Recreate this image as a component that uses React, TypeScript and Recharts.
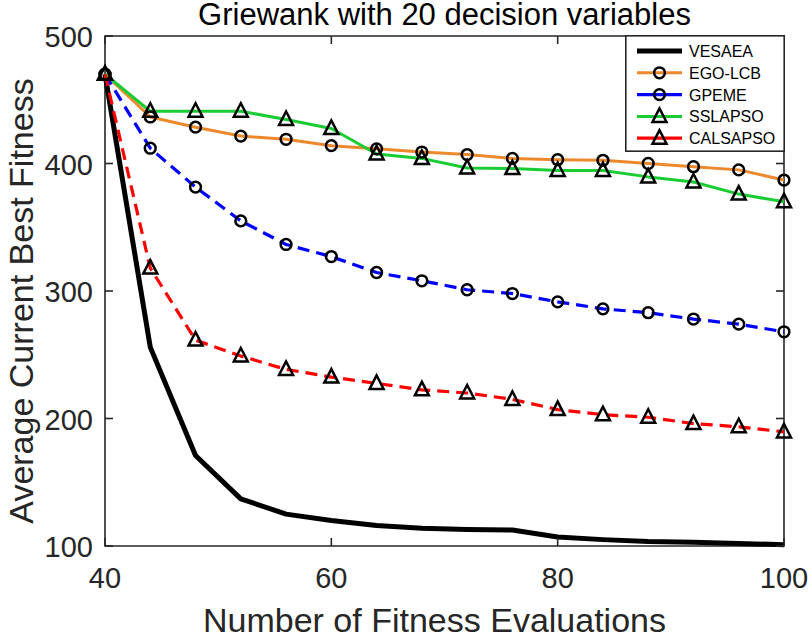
import React from "react";
import { LineChart, Line, XAxis, YAxis, ReferenceArea, Legend } from "recharts";

// Averaged best fitness, Griewank (20 variables)
const evaluations = [40, 44, 48, 52, 56, 60, 64, 68, 72, 76, 80, 84, 88, 92, 96, 100];
const vesaea = [470, 256, 171, 137, 125, 120, 116, 114, 113, 112.5, 107, 105, 103.5, 103, 102, 101];
const egoLcb = [470, 436.5, 428.5, 421.5, 419, 414, 411.5, 409, 407, 404, 403, 402.5, 400, 397.5, 395, 387];
const gpeme = [470, 412, 381.5, 355, 336.5, 327, 314.5, 308, 301, 298, 291.5, 286, 283, 278, 274, 268];
const sslapso = [470, 441, 441, 441, 434.5, 427.5, 407.5, 404, 396.5, 396, 394.5, 394.5, 389.5, 385.5, 376, 370];
const calsapso = [470, 318, 261.5, 249, 238.5, 232.5, 227.5, 222.5, 220, 215, 207, 203, 201, 196, 193.5, 189.5];

const xTicks = [40, 60, 80, 100];
const yTicks = [100, 200, 300, 400, 500];

const data = evaluations.map((x, i) => ({
  x,
  VESAEA: vesaea[i],
  "EGO-LCB": egoLcb[i],
  GPEME: gpeme[i],
  SSLAPSO: sslapso[i],
  CALSAPSO: calsapso[i],
}));

type Marker = "none" | "circle" | "triangle";

const series: { name: string; color: string; width: number; dash?: string; marker: Marker }[] = [
  { name: "VESAEA", color: "#000000", width: 5, marker: "none" },
  { name: "EGO-LCB", color: "#ED892D", width: 3, marker: "circle" },
  { name: "GPEME", color: "#0000FF", width: 3.2, dash: "12 7", marker: "circle" },
  { name: "SSLAPSO", color: "#1ACC33", width: 3, marker: "triangle" },
  { name: "CALSAPSO", color: "#FF0000", width: 3.2, dash: "12 7", marker: "triangle" },
];

const W = 811;
const H = 636;
const MARGIN = { top: 36, right: 27, bottom: 0, left: 0 };
const Y_AXIS_W = 105;
const X_AXIS_H = 90;
const PLOT_TOP = MARGIN.top;
const PLOT_RIGHT = W - MARGIN.right;
const TICK_LEN = 8;
const AXIS = "#262626";
const FONT = '"Liberation Sans", Arial, Helvetica, sans-serif';
const LABEL_SIZE = 34;

const drawMarker = (kind: Marker, cx: number, cy: number, key?: React.Key) => {
  if (kind === "circle") {
    return <circle key={key} cx={cx} cy={cy} r={5.4} fill="none" stroke="#000" strokeWidth={2.5} />;
  }
  if (kind === "triangle") {
    const pts = `${cx},${cy - 8} ${cx - 7},${cy + 5.5} ${cx + 7},${cy + 5.5}`;
    return <polygon key={key} points={pts} fill="none" stroke="#000" strokeWidth={2.5} strokeLinejoin="miter" />;
  }
  return <g key={key} />;
};

const XTick = (props: any) => {
  const { x, y, payload } = props;
  return (
    <g>
      <line x1={x} y1={y} x2={x} y2={y - TICK_LEN} stroke={AXIS} strokeWidth={1.6} />
      <line x1={x} y1={PLOT_TOP} x2={x} y2={PLOT_TOP + TICK_LEN} stroke={AXIS} strokeWidth={1.6} />
      <text x={x} y={y + 42} textAnchor="middle" fontSize={29} fontFamily={FONT} fill={AXIS}>
        {payload.value}
      </text>
    </g>
  );
};

const YTick = (props: any) => {
  const { x, y, payload } = props;
  return (
    <g>
      <line x1={x} y1={y} x2={x + TICK_LEN} y2={y} stroke={AXIS} strokeWidth={1.6} />
      <line x1={PLOT_RIGHT} y1={y} x2={PLOT_RIGHT - TICK_LEN} y2={y} stroke={AXIS} strokeWidth={1.6} />
      <text x={x - 12} y={y + 11} textAnchor="end" fontSize={29} fontFamily={FONT} fill={AXIS}>
        {payload.value}
      </text>
    </g>
  );
};

// axis titles sit a little toward the origin from the plot centre
const XLabel = (props: any) => {
  const { viewBox } = props;
  return (
    <text
      x={viewBox.x + viewBox.width / 2 - 10}
      y={viewBox.y + viewBox.height - 4}
      textAnchor="middle"
      fontSize={LABEL_SIZE}
      fontFamily={FONT}
      fill={AXIS}
    >
      Number of Fitness Evaluations
    </text>
  );
};

const YLabel = (props: any) => {
  const { viewBox } = props;
  const cx = viewBox.x + 33;
  const cy = viewBox.y + viewBox.height / 2 + 10;
  return (
    <text
      x={cx}
      y={cy}
      transform={`rotate(-90, ${cx}, ${cy})`}
      textAnchor="middle"
      fontSize={LABEL_SIZE}
      fontFamily={FONT}
      fill={AXIS}
    >
      Average Current Best Fitness
    </text>
  );
};

const LegendBox = () => (
  <svg width={160} height={117} style={{ display: "block" }}>
    <rect x={0.8} y={0.8} width={158.4} height={115.4} fill="#fff" stroke={AXIS} strokeWidth={1.6} />
    {series.map((s, i) => {
      const cy = 16 + i * 21.8;
      return (
        <g key={s.name}>
          <line x1={12} x2={57} y1={cy} y2={cy} stroke={s.color} strokeWidth={s.width} />
          {drawMarker(s.marker, 34.5, cy)}
          <text x={64} y={cy + 6} fontSize={16} fontFamily={FONT} fill="#000">
            {s.name}
          </text>
        </g>
      );
    })}
  </svg>
);

export default function App() {
  return (
    <div style={{ position: "absolute", left: 0, top: 0, width: W, height: H, background: "#fff" }}>
      <LineChart width={W} height={H} data={data} margin={MARGIN}>
        <XAxis
          dataKey="x"
          type="number"
          domain={[40, 100]}
          ticks={xTicks}
          height={X_AXIS_H}
          axisLine={false}
          tickLine={false}
          tickSize={0}
          tickMargin={0}
          tick={<XTick />}
          label={{ content: <XLabel /> }}
        />
        <YAxis
          type="number"
          domain={[100, 500]}
          ticks={yTicks}
          width={Y_AXIS_W}
          axisLine={false}
          tickLine={false}
          tickSize={0}
          tickMargin={0}
          tick={<YTick />}
          label={{ content: <YLabel /> }}
        />
        <ReferenceArea x1={40} x2={100} y1={100} y2={500} fill="none" stroke={AXIS} strokeWidth={1.6} />
        {series.map((s) => (
          <Line
            key={s.name}
            dataKey={s.name}
            type="linear"
            stroke={s.color}
            strokeWidth={s.width}
            strokeDasharray={s.dash}
            strokeLinejoin="round"
            isAnimationActive={false}
            activeDot={false}
            dot={
              s.marker === "none"
                ? false
                : (p: any) => drawMarker(s.marker, p.cx, p.cy, `${s.name}-${p.index}`)
            }
          />
        ))}
        <Legend
          layout="horizontal"
          verticalAlign="middle"
          align="center"
          content={<LegendBox />}
          wrapperStyle={{ position: "absolute", left: 625, top: 35, width: 160, height: 117 }}
        />
      </LineChart>
      <svg width={W} height={40} style={{ position: "absolute", left: 0, top: 0, pointerEvents: "none" }}>
        <text x={444.5} y={25} textAnchor="middle" fontSize={31} fontFamily={FONT} fill="#000">
          Griewank with 20 decision variables
        </text>
      </svg>
    </div>
  );
}
